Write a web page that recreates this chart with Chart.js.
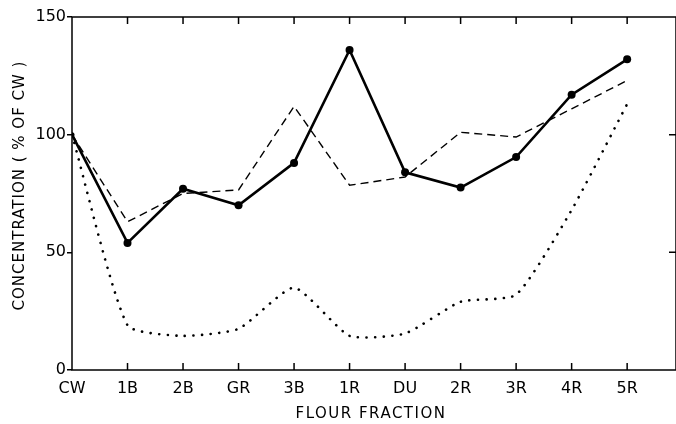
<!DOCTYPE html>
<html lang="en">
<head>
<meta charset="UTF-8">
<title>Concentration by flour fraction</title>
<script src="https://cdn.jsdelivr.net/npm/chart.js"></script>
<style>
    html, body { margin: 0; padding: 0; background: #fff; overflow: hidden; }
    .wrap { width: 680px; height: 424px; }
</style>
</head>
<body>
<div class="wrap"><canvas id="chart" width="680" height="424"></canvas></div>
<script>
const fractions = ['CW', '1B', '2B', 'GR', '3B', '1R', 'DU', '2R', '3R', '4R', '5R'];
const solidSeries  = [100, 54, 77, 70, 88, 136, 84, 77.5, 90.5, 117, 132];
const dashedSeries = [100, 63, 75, 76.5, 112, 78.5, 82, 101, 99, 111, 123];
const dottedSeries = [100, 19, 14.5, 17.5, 35, 14.5, 15.5, 29, 32, 68, 113];
const yTicks = [0, 50, 100, 150];

const FONT = "'DejaVu Sans', Arial, sans-serif";
const toPoints = arr => arr.map((v, i) => ({ x: i, y: v }));

// frame, inward tick marks and axis titles
const frameAndTitles = {
    id: 'frameAndTitles',
    afterDatasetsDraw(chart) {
        const { ctx, chartArea: a, scales: { x, y } } = chart;
        ctx.save();
        ctx.strokeStyle = '#000';
        ctx.lineWidth = 1.5;
        ctx.strokeRect(a.left, a.top, a.right - a.left, a.bottom - a.top);
        ctx.beginPath();
        fractions.forEach((f, i) => {
            if (i === 0) return;
            const px = x.getPixelForValue(i);
            ctx.moveTo(px, a.bottom); ctx.lineTo(px, a.bottom - 7);
            ctx.moveTo(px, a.top); ctx.lineTo(px, a.top + 7);
        });
        yTicks.slice(1, -1).forEach(v => {
            const py = y.getPixelForValue(v);
            ctx.moveTo(a.right, py); ctx.lineTo(a.right - 7, py);
        });
        ctx.stroke();

        ctx.fillStyle = '#000';
        ctx.font = '15px ' + FONT;
        ctx.textAlign = 'center';
        ctx.textBaseline = 'middle';
        ctx.letterSpacing = '1.5px';
        ctx.fillText('FLOUR FRACTION', (a.left + a.right) / 2 - 3, 414);
        ctx.translate(20, (a.top + a.bottom) / 2 - 8);
        ctx.rotate(-Math.PI / 2);
        ctx.letterSpacing = '1px';
        ctx.fillText('CONCENTRATION ( % OF CW )', 0, 0);
        ctx.restore();
    }
};

new Chart(document.getElementById('chart'), {
    type: 'line',
    data: {
        datasets: [
            {
                label: 'solid',
                data: toPoints(solidSeries),
                borderColor: '#000',
                backgroundColor: '#000',
                borderWidth: 2.6,
                pointRadius: solidSeries.map((v, i) => i === 0 ? 2.5 : 4),
                pointBorderWidth: 0,
                tension: 0
            },
            {
                label: 'dashed',
                data: toPoints(dashedSeries),
                borderColor: '#000',
                borderWidth: 1.4,
                borderDash: [8, 5],
                pointRadius: 0,
                tension: 0
            },
            {
                label: 'dotted',
                data: toPoints(dottedSeries),
                borderColor: '#000',
                borderWidth: 2.6,
                borderDash: [0.1, 8.5],
                borderCapStyle: 'round',
                pointRadius: 0,
                tension: 0.18
            }
        ]
    },
    options: {
        responsive: false,
        animation: false,
        layout: { padding: { top: 17, right: 3, left: 0, bottom: 0 } },
        plugins: { legend: { display: false }, tooltip: { enabled: false } },
        scales: {
            x: {
                type: 'linear',
                min: 0,
                max: 10.88,
                afterBuildTicks: s => { s.ticks = fractions.map((f, i) => ({ value: i })); },
                afterFit: s => { s.height = 54; },
                grid: { display: false },
                border: { display: false },
                ticks: {
                    autoSkip: false,
                    maxRotation: 0,
                    padding: 1,
                    color: '#000',
                    font: { family: FONT, size: 16 },
                    callback: v => fractions[v]
                }
            },
            y: {
                min: 0,
                max: 150,
                afterBuildTicks: s => { s.ticks = yTicks.map(v => ({ value: v })); },
                afterFit: s => { s.width = 72; },
                grid: { drawOnChartArea: false, tickLength: 5, color: '#000', lineWidth: 1.5 },
                border: { display: false },
                ticks: {
                    padding: 1,
                    color: '#000',
                    font: { family: FONT, size: 16 }
                }
            }
        }
    },
    plugins: [frameAndTitles]
});
</script>
</body>
</html>
